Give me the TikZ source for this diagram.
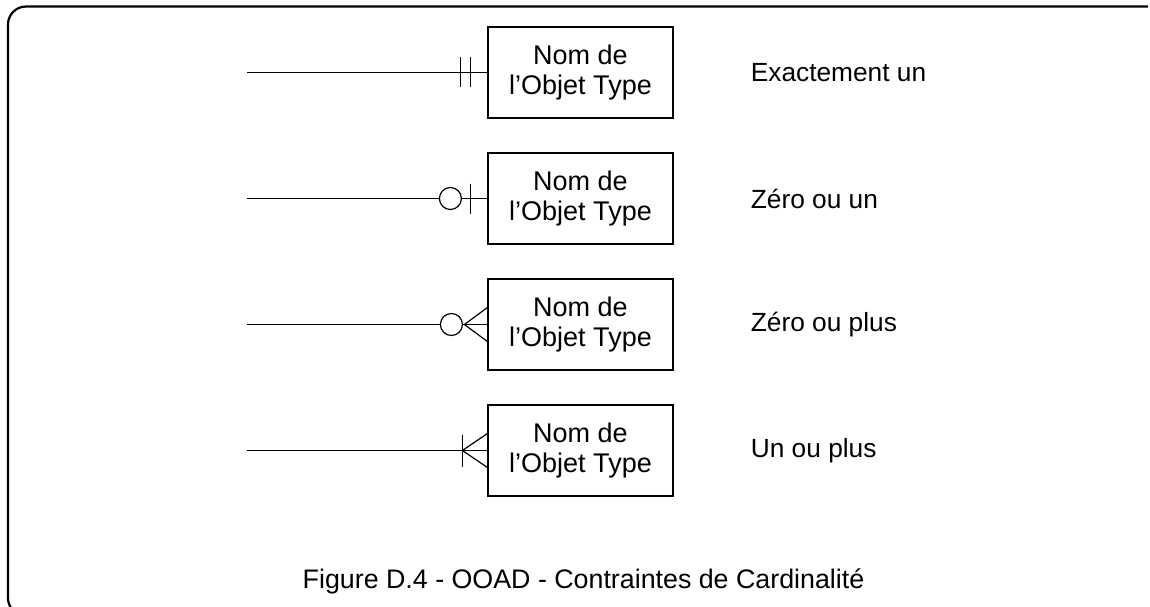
\documentclass[tikz,border=0pt]{standalone}
\usepackage{fontspec}
\setmainfont{Liberation Sans}
\usetikzlibrary{positioning, calc}

\begin{document}
\begin{tikzpicture}[x=1pt, y=-1pt,
    objbox/.style={rectangle, draw, line width=1.2pt, minimum width=185pt, minimum height=91pt, inner sep=0pt, align=center, font=\fontsize{27}{29.5}\selectfont},
    cardtext/.style={anchor=west, inner sep=0pt, font=\fontsize{26.3}{29}\selectfont},
    ring/.style={circle, draw, line width=1.2pt, minimum size=22pt, inner sep=0pt},
    card/.style={line width=1.2pt}
]

% Page and frame
\useasboundingbox (0,0) rectangle (1150,607);
\draw[line width=2.2pt, rounded corners=18pt] (1148,6.5) -- (8,6.5) -- (8,616) -- (40,616);

% Parameters
\def\rowSpacing{126}

% Object boxes, free line ends and cardinality texts
\foreach \i/\txt in {1/Exactement un, 2/Zéro ou un, 3/Zéro ou plus, 4/Un ou plus} {
    \node[objbox] (obj\i) at (580.5, {72.5+(\i-1)*\rowSpacing}) {Nom de\\l'Objet Type};
    \node[cardtext, right=77pt of obj\i] (card\i) {\txt};
    \coordinate (end\i) at (247, {72.5+(\i-1)*\rowSpacing});
}

% Exactly one
\draw[card] (end1) -- (obj1.west);
\draw[card] ($(obj1.west)+(-27,-15)$) -- ++(0,30);
\draw[card] ($(obj1.west)+(-17,-15)$) -- ++(0,30);

% Zero or one
\node[ring] (ring2) at ($(obj2.west)+(-37,0)$) {};
\draw[card] (end2) -- (ring2);
\draw[card] (ring2) -- (obj2.west);
\draw[card] ($(obj2.west)+(-17,-15)$) -- ++(0,30);

% Zero or more
\node[ring] (ring3) at ($(obj3.west)+(-36,0)$) {};
\coordinate (foot3) at ($(obj3.west)+(-23,0)$);
\draw[card] (end3) -- (ring3);
\draw[card] (ring3) -- (obj3.west);
\draw[card] ($(obj3.west)+(0,-17)$) -- (foot3) -- ($(obj3.west)+(0,17)$);

% One or more
\coordinate (foot4) at ($(obj4.west)+(-25,0)$);
\draw[card] (end4) -- (obj4.west);
\draw[card] ($(foot4)+(0,-16)$) -- ++(0,32);
\draw[card] ($(obj4.west)+(0,-17)$) -- (foot4) -- ($(obj4.west)+(0,17)$);

% Caption
\node[font=\fontsize{26.8}{29}\selectfont] (caption) at (583.5,581) {Figure D.4 - OOAD - Contraintes de Cardinalité};

\end{tikzpicture}
\end{document}
